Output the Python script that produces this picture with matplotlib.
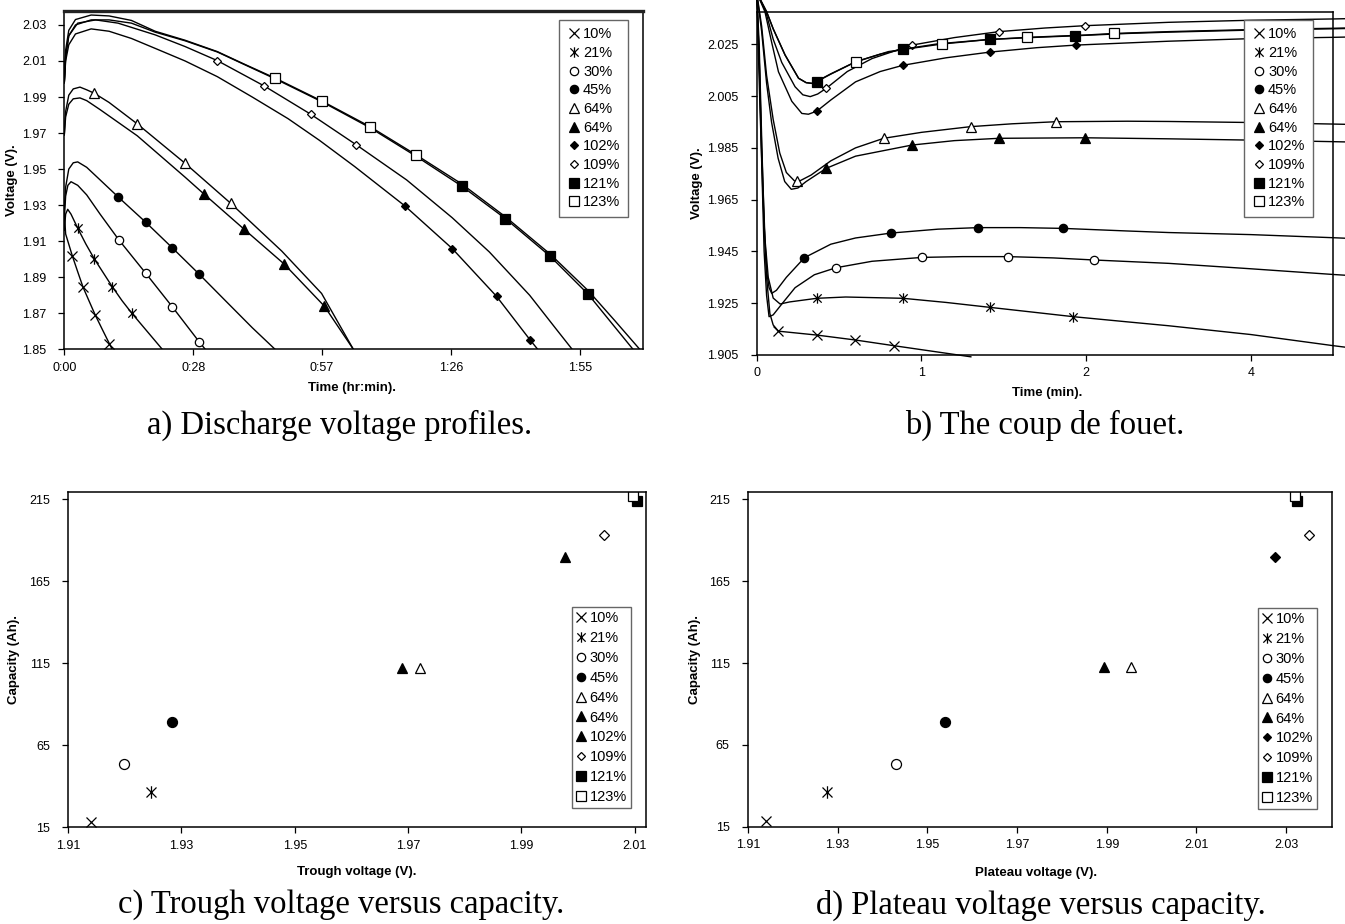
import numpy as np
import matplotlib
matplotlib.use("Agg")
import matplotlib.pyplot as plt
from matplotlib.lines import Line2D
from matplotlib.path import Path
from matplotlib.ticker import FuncFormatter

plt.rcParams['font.family'] = ['Liberation Sans', 'DejaVu Sans']

labels = ['10%', '21%', '30%', '45%', '64%', '64%', '102%', '109%', '121%', '123%']

# a) discharge voltage profiles, time in minutes, voltage in V
a_t = [
    [0, 0.3, 1.8, 3.0, 4.2, 5.5, 6.9, 8.5, 10.1, 10.7],
    [0, 0.3, 0.76, 1.5, 3.0, 4.8, 6.7, 8.7, 10.7, 12.9, 15.1, 18.5, 21.9],
    [0, 0.3, 0.8, 1.5, 3.0, 5.0, 8.0, 12.2, 18.2, 24.1, 30.1, 31.5],
    [0, 0.3, 1.0, 2.0, 3.0, 5.0, 8.0, 12.1, 18.2, 24.1, 30.1, 36.0, 42.0, 47.1],
    [0, 0.3, 1.0, 2.0, 3.5, 5.0, 6.7, 10.0, 16.3, 27.0, 37.2, 48.6, 57.5, 64.6],
    [0, 0.3, 1.0, 2.0, 3.5, 5.0, 8.0, 16.3, 27.0, 31.2, 40.2, 49.1, 58.1, 64.6],
    [0, 0.3, 1.0, 2.5, 6.0, 10.0, 15.0, 20.3, 27.0, 34.2, 42.0, 50.0, 57.0, 64.9, 76.1, 86.7, 96.6, 104.1, 105.8],
    [0, 0.3, 1.0, 3.0, 7.0, 12.0, 20.3, 27.0, 34.2, 44.7, 55.1, 65.3, 76.5, 86.7, 95.0, 104.0, 110.0, 113.5],
    [0, 0.3, 1.0, 2.5, 6.0, 10.0, 15.0, 20.3, 27.0, 34.2, 40.0, 47.2, 57.7, 68.3, 78.7, 88.8, 98.6, 108.6, 117.1, 122.5, 127.1],
    [0, 0.3, 1.0, 2.5, 6.0, 10.0, 15.0, 20.3, 27.0, 34.2, 40.0, 47.2, 57.7, 68.3, 78.7, 88.8, 98.6, 108.6, 117.1, 123.0, 128.6],
]
a_v = [
    [1.926, 1.914, 1.9018, 1.893, 1.8844, 1.877, 1.8691, 1.861, 1.853, 1.85],
    [1.916, 1.925, 1.9277, 1.925, 1.9172, 1.9085, 1.9002, 1.8925, 1.8848, 1.877, 1.870, 1.860, 1.85],
    [1.922, 1.935, 1.941, 1.943, 1.941, 1.9357, 1.925, 1.9107, 1.8922, 1.8737, 1.8543, 1.85],
    [1.928, 1.940, 1.950, 1.9535, 1.954, 1.951, 1.944, 1.9344, 1.9205, 1.9064, 1.8918, 1.877, 1.862, 1.85],
    [1.969, 1.982, 1.991, 1.9945, 1.9955, 1.994, 1.9921, 1.987, 1.9751, 1.9532, 1.931, 1.9045, 1.881, 1.85],
    [1.969, 1.979, 1.986, 1.989, 1.9895, 1.988, 1.983, 1.9685, 1.9455, 1.9362, 1.9166, 1.8974, 1.874, 1.85],
    [1.998, 2.010, 2.019, 2.025, 2.0278, 2.0265, 2.0225, 2.017, 2.010, 2.0013, 1.990, 1.978, 1.966, 1.9514, 1.9296, 1.9059, 1.8794, 1.8552, 1.85],
    [1.998, 2.012, 2.024, 2.031, 2.0328, 2.031, 2.0245, 2.018, 2.0102, 1.9961, 1.9804, 1.9634, 1.944, 1.923, 1.904, 1.880, 1.861, 1.85],
    [1.998, 2.013, 2.024, 2.030, 2.0328, 2.0328, 2.031, 2.026, 2.0212, 2.015, 2.0083, 2.0, 1.9872, 1.973, 1.957, 1.9406, 1.9225, 1.9016, 1.8805, 1.864, 1.85],
    [1.998, 2.016, 2.027, 2.033, 2.0355, 2.035, 2.0325, 2.0265, 2.0215, 2.0152, 2.0085, 2.0004, 1.9876, 1.9736, 1.9578, 1.9418, 1.9235, 1.9028, 1.8825, 1.866, 1.85],
]
a_mark_t = [
    [1.8, 4.2, 6.9, 10.1], [3.0, 6.7, 10.7, 15.1], [12.2, 18.2, 24.1, 30.1],
    [12.1, 18.2, 24.1, 30.1], [6.7, 16.3, 27.0, 37.2], [31.2, 40.2, 49.1, 58.1],
    [76.1, 86.7, 96.6, 104.1], [34.2, 44.7, 55.1, 65.3], [88.8, 98.6, 108.6, 117.1],
    [47.2, 57.7, 68.3, 78.7],
]
a_mark_v = [
    [1.9018, 1.8844, 1.8691, 1.853], [1.9172, 1.9002, 1.8848, 1.870],
    [1.9107, 1.8922, 1.8737, 1.8543], [1.9344, 1.9205, 1.9064, 1.8918],
    [1.9921, 1.9751, 1.9532, 1.931], [1.9362, 1.9166, 1.8974, 1.874],
    [1.9296, 1.9059, 1.8794, 1.8552], [2.0102, 1.9961, 1.9804, 1.9634],
    [1.9406, 1.9225, 1.9016, 1.8805], [2.0004, 1.9876, 1.9736, 1.9578],
]

# b) coup de fouet, time in minutes
b_t = [
    [0, 0.02, 0.04, 0.06, 0.08, 0.10, 0.132, 0.365, 0.598, 0.832, 1.05, 1.3],
    [0, 0.015, 0.03, 0.05, 0.07, 0.1, 0.142, 0.2, 0.365, 0.54, 0.888, 1.15, 1.416, 1.67, 1.922, 2.5, 3, 4, 5, 5.15],
    [0, 0.015, 0.03, 0.045, 0.06, 0.075, 0.1, 0.15, 0.233, 0.35, 0.481, 0.7, 1.004, 1.25, 1.527, 1.8, 2.094, 3, 4, 5, 5.15],
    [0, 0.015, 0.03, 0.045, 0.061, 0.075, 0.091, 0.12, 0.18, 0.29, 0.45, 0.6, 0.815, 1.1, 1.343, 1.6, 1.861, 2.5, 3, 4, 5, 5.15],
    [0, 0.03, 0.06, 0.1, 0.14, 0.18, 0.23, 0.26, 0.33, 0.45, 0.6, 0.771, 1.0, 1.298, 1.55, 1.815, 2.5, 3, 4, 5, 5.15],
    [0, 0.03, 0.06, 0.09, 0.13, 0.17, 0.21, 0.25, 0.3, 0.422, 0.6, 0.943, 1.2, 1.471, 1.993, 2.5, 3, 4, 5, 5.15],
    [0, 0.05, 0.09, 0.132, 0.213, 0.274, 0.314, 0.365, 0.45, 0.6, 0.75, 0.888, 1.15, 1.416, 1.7, 1.936, 3, 4, 5, 5.15],
    [0, 0.055, 0.1, 0.152, 0.233, 0.28, 0.325, 0.37, 0.422, 0.55, 0.7, 0.943, 1.2, 1.471, 1.75, 1.993, 3, 4, 5, 5.15],
    [0, 0.06, 0.1, 0.172, 0.254, 0.3, 0.335, 0.365, 0.45, 0.6, 0.75, 0.888, 1.1, 1.416, 1.7, 1.932, 2.5, 3, 4, 5, 5.15],
    [0, 0.06, 0.1, 0.172, 0.254, 0.3, 0.34, 0.45, 0.602, 0.8, 1.122, 1.4, 1.643, 2.0, 2.338, 3, 4, 5, 5.15],
]
b_v = [
    [2.045, 2.00, 1.963, 1.935, 1.921, 1.9166, 1.9142, 1.9127, 1.9108, 1.9086, 1.9066, 1.9043],
    [2.045, 2.02, 1.985, 1.95, 1.935, 1.927, 1.9247, 1.9255, 1.9269, 1.9274, 1.9269, 1.9253, 1.9234, 1.9216, 1.9198, 1.9178, 1.9163, 1.9129, 1.9086, 1.908],
    [2.045, 2.02, 1.98, 1.945, 1.928, 1.9198, 1.9205, 1.9245, 1.931, 1.936, 1.9387, 1.9412, 1.9427, 1.943, 1.943, 1.9425, 1.9417, 1.9404, 1.9383, 1.9361, 1.9358],
    [2.045, 2.025, 1.989, 1.955, 1.937, 1.931, 1.9288, 1.930, 1.935, 1.9426, 1.9478, 1.9502, 1.9521, 1.9536, 1.9542, 1.9542, 1.9539, 1.9529, 1.9523, 1.9515, 1.9503, 1.9501],
    [2.045, 2.032, 2.013, 1.996, 1.983, 1.9755, 1.9722, 1.9722, 1.9745, 1.980, 1.985, 1.9887, 1.991, 1.9932, 1.9943, 1.9951, 1.9953, 1.9952, 1.9948, 1.9942, 1.9941],
    [2.045, 2.03, 2.01, 1.995, 1.981, 1.972, 1.969, 1.9695, 1.972, 1.9771, 1.9818, 1.9861, 1.9878, 1.9887, 1.9889, 1.9887, 1.9885, 1.988, 1.9874, 1.9873],
    [2.045, 2.0376, 2.026, 2.0144, 2.003, 1.9983, 1.998, 1.9992, 2.0035, 2.0105, 2.0145, 2.0169, 2.0198, 2.022, 2.0237, 2.0247, 2.0262, 2.0272, 2.0277, 2.0278],
    [2.045, 2.0376, 2.027, 2.018, 2.0086, 2.0055, 2.0048, 2.0058, 2.008, 2.0145, 2.0195, 2.0247, 2.0276, 2.0299, 2.0313, 2.0322, 2.0335, 2.0343, 2.0348, 2.0349],
    [2.045, 2.0376, 2.031, 2.0209, 2.0119, 2.0102, 2.0099, 2.0106, 2.0135, 2.0182, 2.0212, 2.0231, 2.0252, 2.0269, 2.0277, 2.0283, 2.0292, 2.0297, 2.0305, 2.031, 2.0311],
    [2.045, 2.0376, 2.031, 2.0209, 2.0119, 2.0102, 2.0099, 2.0136, 2.0183, 2.0222, 2.0251, 2.0268, 2.0277, 2.0286, 2.0292, 2.0299, 2.0307, 2.0312, 2.0313],
]
b_mark_t = [
    [0.132, 0.365, 0.598, 0.832], [0.365, 0.888, 1.416, 1.922], [0.481, 1.004, 1.527, 2.094],
    [0.29, 0.815, 1.343, 1.861], [0.247, 0.771, 1.298, 1.815], [0.422, 0.943, 1.471, 1.993],
    [0.365, 0.888, 1.416, 1.936], [0.422, 0.943, 1.471, 1.993], [0.365, 0.888, 1.416, 1.932],
    [0.602, 1.122, 1.643, 2.338],
]
b_mark_v = [
    [1.9142, 1.9127, 1.9108, 1.9086], [1.9269, 1.9269, 1.9234, 1.9198],
    [1.9387, 1.9427, 1.943, 1.9417], [1.9426, 1.9521, 1.9542, 1.9539],
    [1.9722, 1.9887, 1.9932, 1.9951], [1.9771, 1.9861, 1.9887, 1.9889],
    [1.9992, 2.0169, 2.022, 2.0247], [2.008, 2.0247, 2.0299, 2.0322],
    [2.0106, 2.0231, 2.0269, 2.0283], [2.0183, 2.0251, 2.0277, 2.0292],
]

# c), d) capacity against trough / plateau voltage
capacity = [18.5, 36.5, 53.6, 79.0, 112.4, 112.4, 180.0, 193.3, 214.0, 217.0]
trough_v = [1.914, 1.9247, 1.9198, 1.9283, 1.9721, 1.9689, 1.9976, 2.0045, 2.0103, 2.0096]
plateau_v = [1.914, 1.9276, 1.9431, 1.9539, 1.9953, 1.9894, 2.0276, 2.0351, 2.0325, 2.0319]

# marker styles
ast = Path([(0, -1), (0, 1), (-0.8, -0.8), (0.8, 0.8), (-0.8, 0.8), (0.8, -0.8)],
           [Path.MOVETO, Path.LINETO] * 3)
styles = [('x', 'none', 6.5), (ast, 'none', 7.5), ('o', 'white', 6), ('o', 'black', 6),
          ('^', 'white', 6.5), ('^', 'black', 6.5), ('D', 'black', 4.5), ('D', 'white', 4.5),
          ('s', 'black', 6.5), ('s', 'white', 6.5)]
styles_c = list(styles)
styles_c[6] = ('^', 'black', 6.5)

W, H = 1345, 924
fig = plt.figure(figsize=(W / 100, H / 100), dpi=100)


def rect(x0, y0, x1, y1):
    return [x0 / W, 1 - y1 / H, (x1 - x0) / W, (y1 - y0) / H]


def style_axes(ax):
    for s in ax.spines.values():
        s.set_linewidth(1.1)
        s.set_color('black')
    ax.tick_params(direction='out', length=4, width=0.9, labelsize=9)
    ax.tick_params(axis='y', pad=9)
    ax.tick_params(axis='x', pad=5)


def add_legend(ax, sty, x, y, pad, hl, ls, tp):
    handles = [Line2D([], [], linestyle='none', marker=m, mfc=fc, mec='black', color='black',
                      ms=ms, mew=0.9) for m, fc, ms in sty]
    leg = ax.legend(handles, labels, loc='upper left', bbox_to_anchor=(x / W, 1 - y / H),
                    bbox_transform=fig.transFigure, borderaxespad=0, fancybox=False,
                    edgecolor='#666666', framealpha=1, fontsize=10.5, handlelength=hl,
                    handletextpad=tp, labelspacing=ls, borderpad=pad)
    leg.get_frame().set_linewidth(1.0)


def caption(x, y, s):
    fig.text(x / W, 1 - y / H, s, ha='center', va='center', family='Liberation Serif', fontsize=23.5)


def label(x, y, s, rot=0):
    fig.text(x / W, 1 - y / H, s, ha='center', va='center', fontsize=9.5, fontweight='bold', rotation=rot)


# ---- a
ax = fig.add_axes(rect(64.3, 10.7, 643.3, 349.3))
for i in range(10):
    m, fc, ms = styles[i]
    ax.plot(a_t[i], a_v[i], color='black', lw=1.0)
    ax.plot(a_mark_t[i], a_mark_v[i], linestyle='none', marker=m, mfc=fc, mec='black', ms=ms, mew=0.9)
ax.set_xlim(0, 129.4)
ax.set_ylim(1.85, 2.0379)
ax.set_xticks([0, 28.8, 57.6, 86.4, 115.2])
ax.xaxis.set_major_formatter(FuncFormatter(lambda v, p: "%d:%02d" % (int(v // 60), int(v % 60))))
ax.set_yticks(np.arange(1.85, 2.031, 0.02))
ax.yaxis.set_major_formatter(FuncFormatter(lambda v, p: "%.2f" % v))
style_axes(ax)
ax.spines['top'].set_linewidth(2.4)
ax.spines['top'].set_color('#222222')
add_legend(ax, styles, 559, 20, 0.5, 1.0, 0.32, 0.15)
label(352, 388, 'Time (hr:min).')
label(12, 180, 'Voltage (V).', 90)
caption(340, 425, 'a) Discharge voltage profiles.')

# ---- b


def fwd(t):
    t = np.asarray(t, dtype=float)
    return np.where(t <= 2, t, 2 + (t - 2) / 2)


def inv(p):
    p = np.asarray(p, dtype=float)
    return np.where(p <= 2, p, 2 + (p - 2) * 2)


ax = fig.add_axes(rect(756.7, 11.7, 1333.3, 355))
ax.set_xscale('function', functions=(fwd, inv))
for i in range(10):
    m, fc, ms = styles[i]
    ax.plot(b_t[i], b_v[i], color='black', lw=1.0, clip_on=False)
    ax.plot(b_mark_t[i], b_mark_v[i], linestyle='none', marker=m, mfc=fc, mec='black', ms=ms, mew=0.9)
ax.set_xlim(0, 5)
ax.set_ylim(1.905, 2.0376)
ax.set_xticks([0, 1, 2, 4])
ax.set_xticklabels(['0', '1', '2', '4'])
ax.set_yticks(np.arange(1.905, 2.026, 0.02))
ax.yaxis.set_major_formatter(FuncFormatter(lambda v, p: "%.3f" % v))
style_axes(ax)
add_legend(ax, styles, 1244, 20, 0.5, 1.0, 0.32, 0.15)
label(1047, 393, 'Time (min).')
label(697, 183, 'Voltage (V).', 90)
caption(1045, 425, 'b) The coup de fouet.')

# ---- c
ax = fig.add_axes(rect(68, 491.7, 645.6, 827.3))
for i in range(10):
    m, fc, ms = styles_c[i]
    ax.plot(trough_v[i], capacity[i], linestyle='none', marker=m, mfc=fc, mec='black', ms=ms * 1.2, mew=0.9)
ax.set_xlim(1.91, 2.0119)
ax.set_ylim(15, 219.7)
ax.set_xticks(np.arange(1.91, 2.011, 0.02))
ax.xaxis.set_major_formatter(FuncFormatter(lambda v, p: "%.2f" % v))
ax.set_yticks([15, 65, 115, 165, 215])
style_axes(ax)
add_legend(ax, styles_c, 572, 607, 0.3, 0.6, 0.4, 0.3)
label(357, 872, 'Trough voltage (V).')
label(14, 660, 'Capacity (Ah).', 90)
caption(341, 905, 'c) Trough voltage versus capacity.')

# ---- d
ax = fig.add_axes(rect(747.8, 491.7, 1332, 826.7))
for i in range(10):
    m, fc, ms = styles[i]
    ax.plot(plateau_v[i], capacity[i], linestyle='none', marker=m, mfc=fc, mec='black', ms=ms * 1.2, mew=0.9)
ax.set_xlim(1.91, 2.0402)
ax.set_ylim(15, 219.7)
ax.set_xticks(np.arange(1.91, 2.031, 0.02))
ax.xaxis.set_major_formatter(FuncFormatter(lambda v, p: "%.2f" % v))
ax.set_yticks([15, 65, 115, 165, 215])
style_axes(ax)
add_legend(ax, styles, 1258, 608, 0.3, 0.6, 0.4, 0.3)
label(1036, 873, 'Plateau voltage (V).')
label(695, 660, 'Capacity (Ah).', 90)
caption(1041, 905, 'd) Plateau voltage versus capacity.')

fig.savefig('out.png', dpi=100)
